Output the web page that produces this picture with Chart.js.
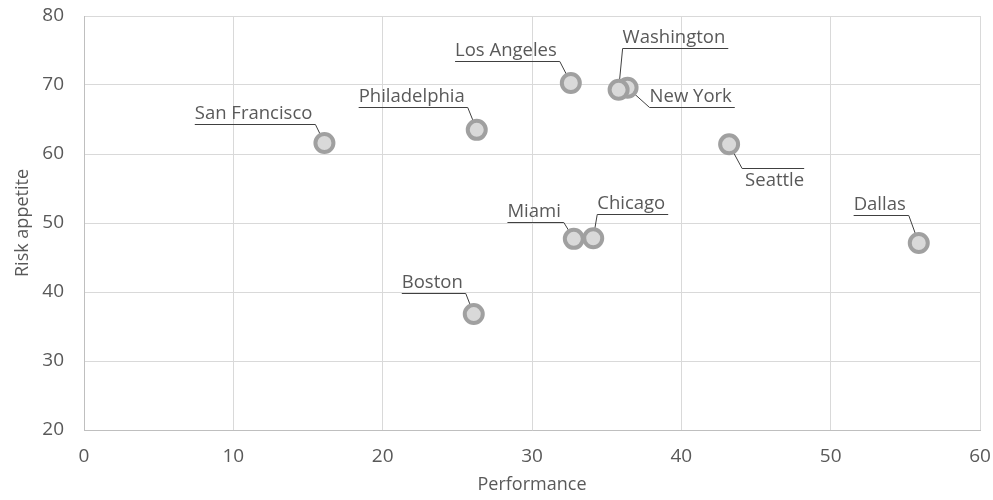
<!DOCTYPE html>
<html>
<head>
<meta charset="utf-8">
<script src="https://cdn.jsdelivr.net/npm/chart.js@4"></script>
<style>
  html, body { margin: 0; padding: 0; background: #fff; }
  #wrap { width: 993px; height: 500px; }
</style>
</head>
<body>
<div id="wrap"><canvas id="riskChart"></canvas></div>
<script>
const cities = ["San Francisco", "Philadelphia", "Los Angeles", "New York", "Washington", "Seattle", "Dallas", "Miami", "Chicago", "Boston"];
const performance = [16.1, 26.3, 32.6, 36.4, 35.8, 43.2, 55.9, 32.8, 34.1, 26.1];
const riskAppetite = [61.6, 63.5, 70.3, 69.6, 69.3, 61.4, 47.1, 47.7, 47.8, 36.8];
const xTicks = [0, 10, 20, 30, 40, 50, 60];
const yTicks = [20, 30, 40, 50, 60, 70, 80];

// where each label sits: side of the point, gap to the line, line offset, text under the line?
const labelLayout = {
  "San Francisco": { side: "left", gap: 9, dy: -19 },
  "Philadelphia": { side: "left", gap: 9, dy: -23 },
  "Los Angeles": { side: "left", gap: 11, dy: -22 },
  "New York": { side: "right", gap: 22, dy: 19 },
  "Washington": { side: "right", gap: 4, dy: -42 },
  "Seattle": { side: "right", gap: 13, dy: 24, below: true },
  "Dallas": { side: "left", gap: 10, dy: -28 },
  "Miami": { side: "left", gap: 10, dy: -17 },
  "Chicago": { side: "right", gap: 4, dy: -24 },
  "Boston": { side: "left", gap: 8, dy: -21 }
};

const fontFam = "'Open Sans', 'Noto Sans', sans-serif";

const leaderLabels = {
  id: "leaderLabels",
  beforeDatasetsDraw(chart) {
    const ctx = chart.ctx;
    const meta = chart.getDatasetMeta(0);
    ctx.save();
    ctx.font = "18.5px " + fontFam;
    meta.data.forEach((pt, i) => {
      const name = cities[i];
      const lay = labelLayout[name];
      const w = ctx.measureText(name).width + 3;
      let x1, x2, ax;
      if (lay.side === "left") {
        x2 = pt.x - lay.gap; x1 = x2 - w; ax = x2;
      } else {
        x1 = pt.x + lay.gap; x2 = x1 + w; ax = x1;
      }
      const ly = Math.round(pt.y + lay.dy);
      ctx.strokeStyle = "#404040";
      ctx.lineWidth = 1;
      ctx.beginPath();
      ctx.moveTo(x1, ly + 0.5);
      ctx.lineTo(x2, ly + 0.5);
      ctx.moveTo(ax, ly + 0.5);
      ctx.lineTo(pt.x, pt.y);
      ctx.stroke();
      ctx.fillStyle = "#595959";
      ctx.textAlign = "left";
      if (lay.below) {
        ctx.textBaseline = "top";
        ctx.fillText(name, x1 + 3, ly + 3);
      } else {
        ctx.textBaseline = "alphabetic";
        ctx.fillText(name, x1, ly - 5);
      }
    });
    ctx.restore();
  }
};

const points = performance.map((v, i) => ({ x: v, y: riskAppetite[i] }));

new Chart(document.getElementById("riskChart"), {
  type: "scatter",
  data: {
    datasets: [{
      label: "Cities",
      data: points,
      pointRadius: 9,
      pointHoverRadius: 9,
      pointBackgroundColor: "#d9d9d9",
      pointBorderColor: "#a0a0a0",
      pointBorderWidth: 4
    }]
  },
  options: {
    responsive: true,
    maintainAspectRatio: false,
    animation: false,
    layout: { padding: { top: 16, right: 13, left: 8, bottom: 0 } },
    plugins: {
      legend: { display: false },
      tooltip: { enabled: false }
    },
    scales: {
      x: {
        type: "linear",
        min: 0, max: 60,
        afterBuildTicks: (axis) => { axis.ticks = xTicks.map(v => ({ value: v })); },
        afterFit: (axis) => {
          axis.height = 70;
          axis.paddingLeft = 0;
          axis.paddingRight = 0;
        },
        grid: { color: "#d9d9d9", lineWidth: 1, drawTicks: false },
        border: { color: "#bfbfbf", width: 1 },
        ticks: { color: "#595959", font: { family: fontFam, size: 19 }, padding: 15 },
        title: { display: true, text: "Performance", color: "#595959", font: { family: fontFam, size: 18 }, padding: { top: 0 } }
      },
      y: {
        type: "linear",
        min: 20, max: 80,
        afterBuildTicks: (axis) => { axis.ticks = yTicks.map(v => ({ value: v })); },
        afterFit: (axis) => {
          axis.width = 76;
          axis.paddingTop = 0;
          axis.paddingBottom = 0;
        },
        grid: { color: "#d9d9d9", lineWidth: 1, drawTicks: false },
        border: { color: "#bfbfbf", width: 1 },
        ticks: { color: "#595959", font: { family: fontFam, size: 19 }, padding: 20 },
        title: { display: true, text: "Risk appetite", color: "#595959", font: { family: fontFam, size: 18 }, padding: { bottom: 0 } }
      }
    }
  },
  plugins: [leaderLabels]
});
</script>
</body>
</html>
